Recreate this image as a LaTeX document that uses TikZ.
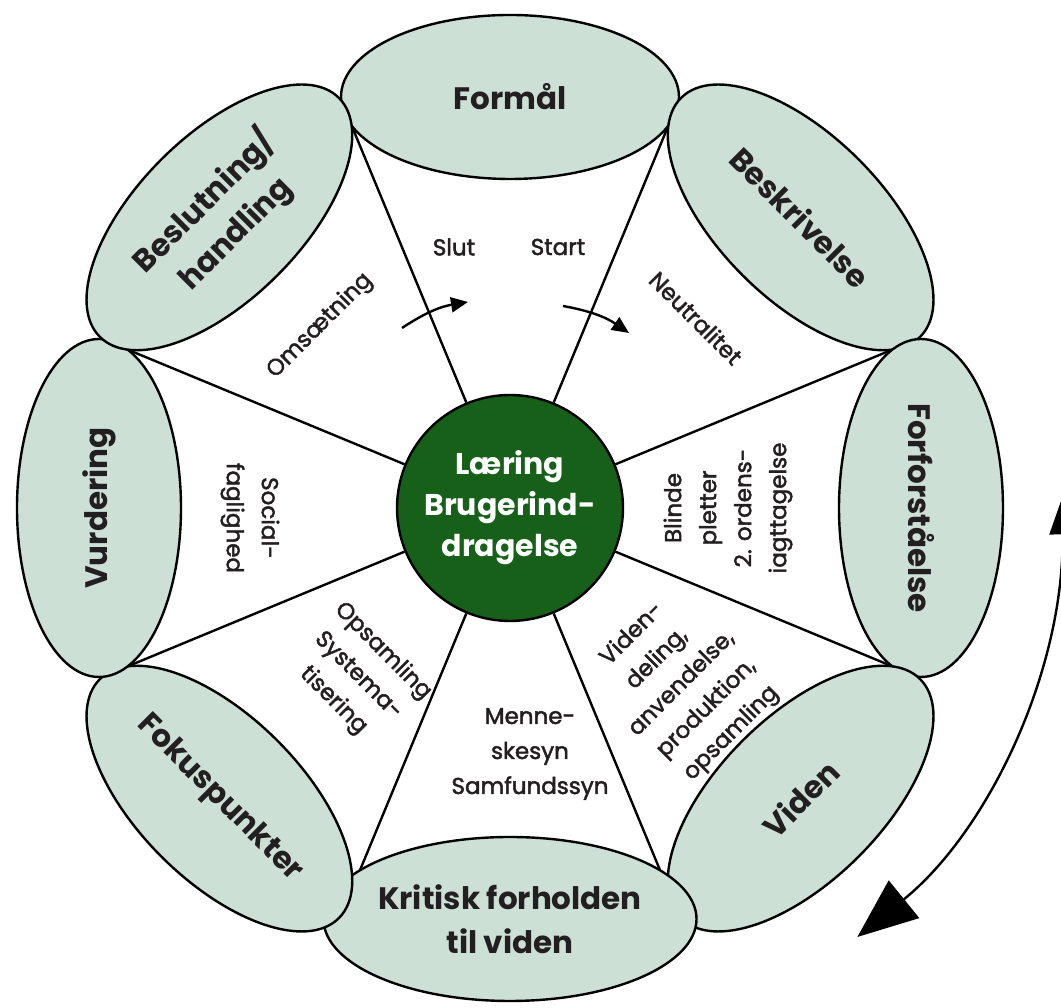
\documentclass[tikz,border=0pt]{standalone}
\usepackage{fontspec}
\setmainfont{Poppins}
\newfontfamily\medfont{Poppins}[FakeBold=2]
\usetikzlibrary{shapes.geometric,arrows.meta,calc}
\definecolor{ellfill}{HTML}{CCE0D5}
\definecolor{dgreen}{HTML}{17601A}
\definecolor{ink}{HTML}{231F20}
\begin{document}
\begin{tikzpicture}[x=1pt,y=1pt,
  petal/.style={ellipse, draw=black, line width=2.4pt, fill=ellfill,
    minimum width=338pt, minimum height=164pt, inner sep=0pt,
    font=\fontsize{31}{44}\selectfont\bfseries, text=ink, align=center},
  hub/.style={circle, draw=black, line width=2.4pt, fill=dgreen,
    minimum size=226pt, inner sep=0pt, text=white,
    font=\fontsize{30}{41}\selectfont\bfseries, align=center},
  spoke/.style={line width=2.4pt, draw=black},
  sector/.style={font=\medfont\fontsize{23}{35}\selectfont, text=ink, align=center, inner sep=0pt},
  smallarrow/.style={line width=2.4pt, -{Triangle[length=17pt,width=15pt]}},
]
\useasboundingbox (0,0) rectangle (1061,1008);
\coordinate (C) at (510,500);
\foreach \i/\a in {1/22.5,2/67.5,3/112.5,4/157.5,5/202.5,6/247.5,7/292.5,8/337.5}
  \coordinate (j\i) at ($(C)+(\a:416)$);

% hub
\node[hub] (hub) at (C) {Læring\\Brugerind-\\dragelse};

% spokes
\foreach \i in {1,...,8} \draw[spoke] (hub) -- (j\i);

% petals
\node[petal, rotate=0]   (formaal) at ($(C)+(90:411)$)  {Formål};
\node[petal, rotate=-45] (beskriv) at ($(C)+(45:411)$)  {Beskrivelse};
\node[petal, rotate=-90] (forfor)  at ($(C)+(0:411)$)   {Forforståelse};
\node[petal, rotate=45]  (viden)   at ($(C)+(-45:411)$) {Viden};
\node[petal, rotate=0]   (kritisk) at ($(C)+(-90:411)$) {Kritisk forholden\\til viden};
\node[petal, rotate=-45] (fokus)   at ($(C)+(-135:411)$) {Fokuspunkter};
\node[petal, rotate=90]  (vurder)  at ($(C)+(180:411)$) {Vurdering};
\node[petal, rotate=45]  (beslut)  at ($(C)+(135:411)$) {Beslutning/\\handling};

% sector texts
\node[sector] (slut) at ($(C)+(-56,261)$) {Slut};
\node[sector] (start) at ($(C)+(48,261)$) {Start};
\node[sector, rotate=-45] (neutral) at ($(C)+(186,190)$) {Neutralitet};
\node[sector, rotate=90] (blinde) at ($(C)+(218,0)$) {Blinde\\pletter\\2. ordens-\\iagttagelse};
\node[sector, rotate=45] (vdel) at ($(C)+(172,-176)$) {Viden-\\deling,\\anvendelse,\\produktion,\\opsamling};
\node[sector] (menne) at ($(C)+(20,-246)$) {Menne-\\skesyn\\Samfundssyn};
\node[sector, rotate=-45] (opsam) at ($(C)+(-152,-168)$) {Opsamling\\Systema-\\tisering};
\node[sector, rotate=-90] (social) at ($(C)+(-260,-10)$) {Social-\\faglighed};
\node[sector, rotate=45] (omsaet) at ($(C)+(-190,182)$) {Omsætning};

% small arrows
\coordinate (la1) at (402,680);
\coordinate (la2) at (468,706);
\coordinate (ra1) at (563,702);
\coordinate (ra2) at (629,675);
\draw[smallarrow] (la1) to[bend left=12] (la2);
\draw[smallarrow] (ra1) to[bend left=12] (ra2);

% big double arrow
\coordinate (bigB) at ($(C)+(-51:552)$);
\draw[line width=2.4pt, {Triangle[length=60pt,width=48pt]}-{Triangle[length=36pt,width=26pt]}]
  (bigB) arc[start angle=-51, end angle=1, radius=552];
\end{tikzpicture}
\end{document}
